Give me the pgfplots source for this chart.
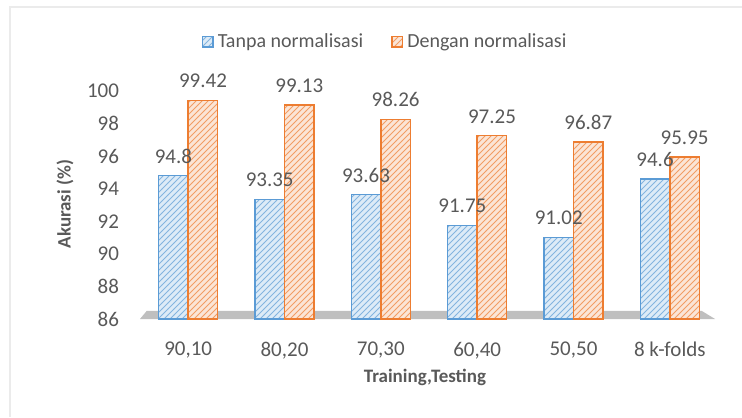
\documentclass[border=0pt]{standalone}
\usepackage{fontspec}
\setmainfont{Carlito}
\usepackage{pgfplots}
\pgfplotsset{compat=1.18}
\usetikzlibrary{patterns}
\definecolor{bl}{HTML}{5B9BD5}
\definecolor{blf}{HTML}{DDEBF7}
\definecolor{og}{HTML}{ED7D31}
\definecolor{ogf}{HTML}{FBE5D6}
\definecolor{txt}{HTML}{595959}
\definecolor{flr}{HTML}{BFBFBF}
\begin{document}
\begin{tikzpicture}
\path[use as bounding box] (0,0) rectangle (371pt,208.5pt);
\draw[black!8, line width=0.8pt] (5pt,0) -- (5pt,205pt) -- (371pt,205pt);
\begin{axis}[
  at={(70pt,49pt)}, anchor=south west, scale only axis,
  width=289pt, height=114pt,
  xmin=-0.5, xmax=5.5, ymin=86, ymax=100, clip=false,
  axis line style={draw=none}, major tick length=0pt,
  ytick={86,88,...,100},
  xtick={0,...,5},
  xticklabels={{90,10},{80,20},{70,30},{60,40},{50,50},{8 k-folds}},
  ticklabel style={font=\fontsize{10.5}{12}\selectfont, text=txt},
  yticklabel style={xshift=-7pt},
  xticklabel style={yshift=-8pt},
  /pgf/number format/assume math mode=true,
  xlabel={Training,Testing},
  ylabel={Akurasi (\%)},
  label style={font=\bfseries\fontsize{9.5}{11}\selectfont, text=txt},
  xlabel style={at={(axis description cs:0.493,0)}, anchor=center, yshift=-29pt},
  ylabel style={at={(axis description cs:0,0.504)}, anchor=center, rotate=0, yshift=37.5pt},
  ybar=0pt, bar width=14.8pt,
  nodes near coords, point meta=explicit symbolic,
  nodes near coords style={font=\fontsize{10.5}{12}\selectfont, text=txt, yshift=2.5pt},
  legend style={at={(0.4256,1)}, anchor=center, yshift=24.5pt, draw=none, fill=none,
    legend columns=2, font=\fontsize{10}{12}\selectfont, text=txt,
    /tikz/every even column/.append style={column sep=12pt}},
  legend image code/.code={\draw[#1] (0pt,-2.6pt) rectangle (5.4pt,2.6pt);},
]
\fill[flr] (axis cs:-0.5,86) -- (axis cs:5.47,86) -- (axis cs:5.33,86.5) -- (axis cs:-0.43,86.5) -- cycle;
\addplot[draw=bl, line width=0.7pt, fill=blf, postaction={pattern=north east lines, pattern color=bl!75}]
 coordinates {(0,94.8)[94.8] (1,93.35)[93.35] (2,93.63)[93.63] (3,91.75)[91.75] (4,91.02)[91.02] (5,94.6)[94.6]};
\addplot[draw=og, line width=0.7pt, fill=ogf, postaction={pattern=north east lines, pattern color=og!75}]
 coordinates {(0,99.42)[99.42] (1,99.13)[99.13] (2,98.26)[98.26] (3,97.25)[97.25] (4,96.87)[96.87] (5,95.95)[95.95]};
\legend{Tanpa normalisasi, Dengan normalisasi}
\end{axis}
\end{tikzpicture}
\end{document}
